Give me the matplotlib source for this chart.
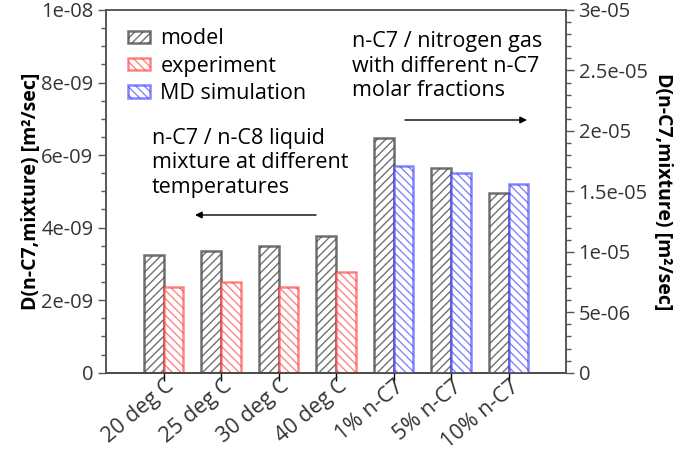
import numpy as np
import matplotlib
matplotlib.use("Agg")
import matplotlib.pyplot as plt
from matplotlib.ticker import MultipleLocator, FuncFormatter

plt.rcParams['font.family'] = ['Open Sans', 'DejaVu Sans']
plt.rcParams['hatch.linewidth'] = 1.0

categories = ["20 deg C", "25 deg C", "30 deg C", "40 deg C",
              "1% n-C7", "5% n-C7", "10% n-C7"]

# liquid mixture (left axis)
liquid_model = [3.25e-9, 3.36e-9, 3.49e-9, 3.77e-9]
liquid_experiment = [2.36e-9, 2.51e-9, 2.36e-9, 2.78e-9]

# gas mixture (right axis)
gas_model = [1.944e-5, 1.696e-5, 1.484e-5]
gas_md = [1.707e-5, 1.649e-5, 1.563e-5]

x = np.arange(len(categories))
x_liq = x[:4]
x_gas = x[4:]
width = 0.34

fig = plt.figure(figsize=(6.8, 4.54), dpi=100)
ax = fig.add_axes([106/680, 1 - 372.7/454, (566-106)/680, (372.7-10)/454])
ax2 = ax.twinx()

grey_edge = (0.3, 0.3, 0.3, 0.8)
red_edge = (1.0, 0.2, 0.2, 0.6)
blue_edge = (0.2, 0.2, 1.0, 0.6)

common = dict(width=width, facecolor='white', linewidth=1.8)
b1 = ax.bar(x_liq - width/2, liquid_model, hatch='////', edgecolor=grey_edge,
            label='model', **common)
b2 = ax.bar(x_liq + width/2, liquid_experiment, hatch='\\\\\\\\', edgecolor=red_edge,
            label='experiment', **common)
b3 = ax2.bar(x_gas - width/2, gas_model, hatch='////', edgecolor=grey_edge, **common)
b4 = ax2.bar(x_gas + width/2, gas_md, hatch='\\\\\\\\', edgecolor=blue_edge,
             label='MD simulation', **common)

ax.set_xlim(-1, 7)
ax.set_ylim(0, 1e-8)
ax2.set_ylim(0, 3e-5)

tick_col = '#333333'
spine_col = '#555555'

# tick marks at the categories; labels on slightly offset minor ticks
ax.set_xticks(x)
ax.set_xticklabels([])
ax.set_xticks(x + 0.14, minor=True)
ax.set_xticklabels(categories, minor=True, rotation=40, ha='right', va='center',
                   rotation_mode='anchor', fontsize=15.5, color=tick_col)

def sci_fmt(v, pos):
    if v == 0:
        return '0'
    e = int(np.floor(np.log10(abs(v))))
    m = v / 10**e
    if abs(m - round(m)) < 1e-6:
        return '%.0e' % v
    return '%.1e' % v

ax.yaxis.set_major_locator(MultipleLocator(2e-9))
ax.yaxis.set_minor_locator(MultipleLocator(5e-10))
ax.yaxis.set_major_formatter(FuncFormatter(sci_fmt))
ax2.yaxis.set_major_locator(MultipleLocator(5e-6))
ax2.yaxis.set_minor_locator(MultipleLocator(1e-6))
ax2.yaxis.set_major_formatter(FuncFormatter(sci_fmt))

for a in (ax, ax2):
    a.tick_params(axis='y', which='major', direction='out', length=6,
                  width=1.0, color=spine_col, labelsize=14.5, labelcolor=tick_col, pad=3)
    a.tick_params(axis='y', which='minor', direction='out', length=3.5,
                  width=1.0, color=spine_col)
    for s in a.spines.values():
        s.set_color(spine_col)
        s.set_linewidth(1.2)
ax.tick_params(axis='x', which='major', direction='out', length=6,
               width=1.0, color='black')
ax.tick_params(axis='x', which='minor', length=0, pad=8)
ax.spines['bottom'].set_color('black')
ax.spines['top'].set_color('#777777')

ax.set_ylabel('D(n-C7,mixture) [m²/sec]', fontsize=14, fontweight='bold', labelpad=0)
ax2.set_ylabel('D(n-C7,mixture) [m²/sec]', fontsize=14, fontweight='bold',
               rotation=270, labelpad=18)

handles = [b1, b2, b4]
ax.legend(handles, ['model', 'experiment', 'MD simulation'], loc='upper left',
          bbox_to_anchor=(0.02, 0.985), frameon=False, fontsize=15.5,
          handlelength=1.0, handleheight=0.5, handletextpad=0.5, labelspacing=0.3,
          borderaxespad=0.2)

ax.text(0.1, 0.676, 'n-C7 / n-C8 liquid\nmixture at different\ntemperatures',
        transform=ax.transAxes, fontsize=15.5, va='top', ha='left',
        color='black', linespacing=1.24)
ax.annotate('', xy=(195, 454-215), xytext=(316, 454-215), xycoords='figure pixels',
            textcoords='figure pixels',
            arrowprops=dict(arrowstyle='-|>', color='black', lw=1.0,
                            mutation_scale=10, shrinkA=0, shrinkB=0))

ax.text(0.535, 0.943, 'n-C7 / nitrogen gas\nwith different n-C7\nmolar fractions',
        transform=ax.transAxes, fontsize=15.5, va='top', ha='left',
        color='black', linespacing=1.24)
ax.annotate('', xy=(527, 454-120), xytext=(405, 454-120), xycoords='figure pixels',
            textcoords='figure pixels',
            arrowprops=dict(arrowstyle='-|>', color='black', lw=1.0,
                            mutation_scale=10, shrinkA=0, shrinkB=0))

fig.savefig('out.png', dpi=100)
